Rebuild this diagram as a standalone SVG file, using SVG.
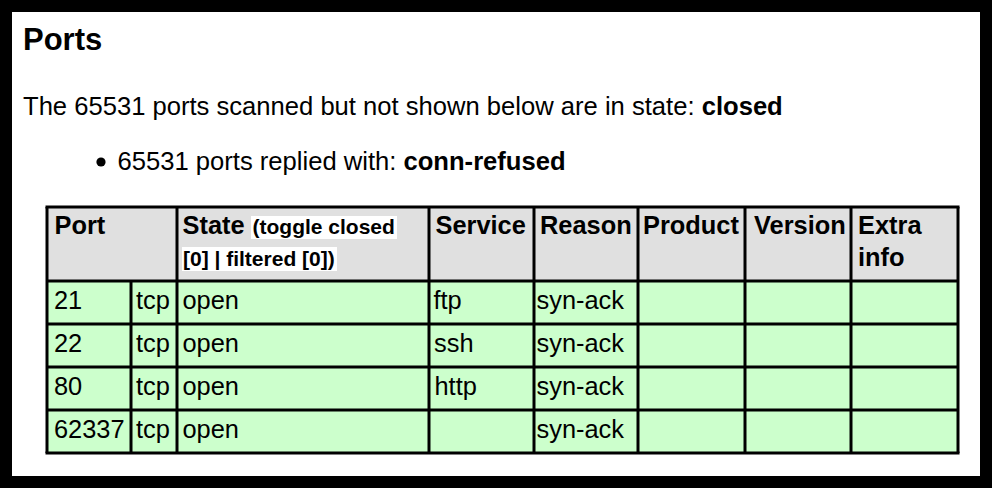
<svg xmlns="http://www.w3.org/2000/svg" width="992" height="488" viewBox="0 0 992 488">
  <style>
    text { font-family: "Liberation Sans", Arial, Helvetica, sans-serif; fill: #000; }
    .h1 { font-size: 31px; font-weight: bold; }
    .p { font-size: 25.6px; }
    .b { font-weight: bold; }
    .th { font-size: 25.4px; font-weight: bold; }
    .sm { font-size: 21px; font-weight: bold; }
    .td { font-size: 25.4px; }
    .hd { fill: #e0e0e0; }
    .row { fill: #ccffcc; }
    .grid line { stroke: #000; stroke-width: 3; }
  </style>
  <rect x="0" y="0" width="992" height="488" fill="#000"/>
  <rect x="12" y="12" width="968" height="464" fill="#fff"/>

  <g id="heading">
    <text class="h1" x="23" y="50">Ports</text>
  </g>
  <g id="summary">
    <text class="p" x="23" y="115">The 65531 ports scanned but not shown below are in state: <tspan class="b">closed</tspan></text>
  </g>
  <g id="bullet">
    <circle cx="101" cy="162" r="4.6" fill="#000"/>
    <text class="p" x="117.5" y="170">65531 ports replied with: <tspan class="b">conn-refused</tspan></text>
  </g>

  <g id="table">
    <g id="header-row">
      <rect class="hd" x="47" y="207" width="911" height="74"/>
      <rect x="251" y="216" width="146" height="23" fill="#fff"/>
      <rect x="182" y="247" width="155" height="24" fill="#fff"/>
      <text class="th" x="54.5" y="234">Port</text>
      <text class="th" x="182.5" y="234">State</text>
      <text class="sm" x="252.5" y="234">(toggle closed</text>
      <text class="sm" x="183" y="266">[0] | filtered [0])</text>
      <text class="th" x="435.5" y="234">Service</text>
      <text class="th" x="540" y="234">Reason</text>
      <text class="th" x="643" y="234">Product</text>
      <text class="th" x="754" y="234">Version</text>
      <text class="th" x="858" y="234">Extra</text>
      <text class="th" x="858" y="266">info</text>
    </g>
    <g id="row-21">
      <rect class="row" x="47" y="281" width="911" height="43"/>
      <text class="td" x="54" y="309">21</text>
      <text class="td" x="136" y="309">tcp</text>
      <text class="td" x="182.5" y="309">open</text>
      <text class="td" x="433.5" y="309">ftp</text>
      <text class="td" x="536.5" y="309">syn-ack</text>
    </g>
    <g id="row-22">
      <rect class="row" x="47" y="324" width="911" height="43"/>
      <text class="td" x="54" y="352">22</text>
      <text class="td" x="136" y="352">tcp</text>
      <text class="td" x="182.5" y="352">open</text>
      <text class="td" x="434" y="352">ssh</text>
      <text class="td" x="536.5" y="352">syn-ack</text>
    </g>
    <g id="row-80">
      <rect class="row" x="47" y="367" width="911" height="43"/>
      <text class="td" x="54" y="395">80</text>
      <text class="td" x="136" y="395">tcp</text>
      <text class="td" x="182.5" y="395">open</text>
      <text class="td" x="434.5" y="395">http</text>
      <text class="td" x="536.5" y="395">syn-ack</text>
    </g>
    <g id="row-62337">
      <rect class="row" x="47" y="410" width="911" height="43"/>
      <text class="td" x="54" y="438">62337</text>
      <text class="td" x="136" y="438">tcp</text>
      <text class="td" x="182.5" y="438">open</text>
      <text class="td" x="536.5" y="438">syn-ack</text>
    </g>
    <g id="grid" class="grid">
      <line x1="45.5" y1="207" x2="959.5" y2="207"/>
      <line x1="47" y1="281" x2="958" y2="281"/>
      <line x1="47" y1="324" x2="958" y2="324"/>
      <line x1="47" y1="367" x2="958" y2="367"/>
      <line x1="47" y1="410" x2="958" y2="410"/>
      <line x1="45.5" y1="453" x2="959.5" y2="453"/>
      <line x1="47" y1="207" x2="47" y2="453"/>
      <line x1="131" y1="281" x2="131" y2="453"/>
      <line x1="177" y1="207" x2="177" y2="453"/>
      <line x1="429" y1="207" x2="429" y2="453"/>
      <line x1="534" y1="207" x2="534" y2="453"/>
      <line x1="638" y1="207" x2="638" y2="453"/>
      <line x1="745" y1="207" x2="745" y2="453"/>
      <line x1="851" y1="207" x2="851" y2="453"/>
      <line x1="958" y1="207" x2="958" y2="453"/>
    </g>
  </g>
</svg>
